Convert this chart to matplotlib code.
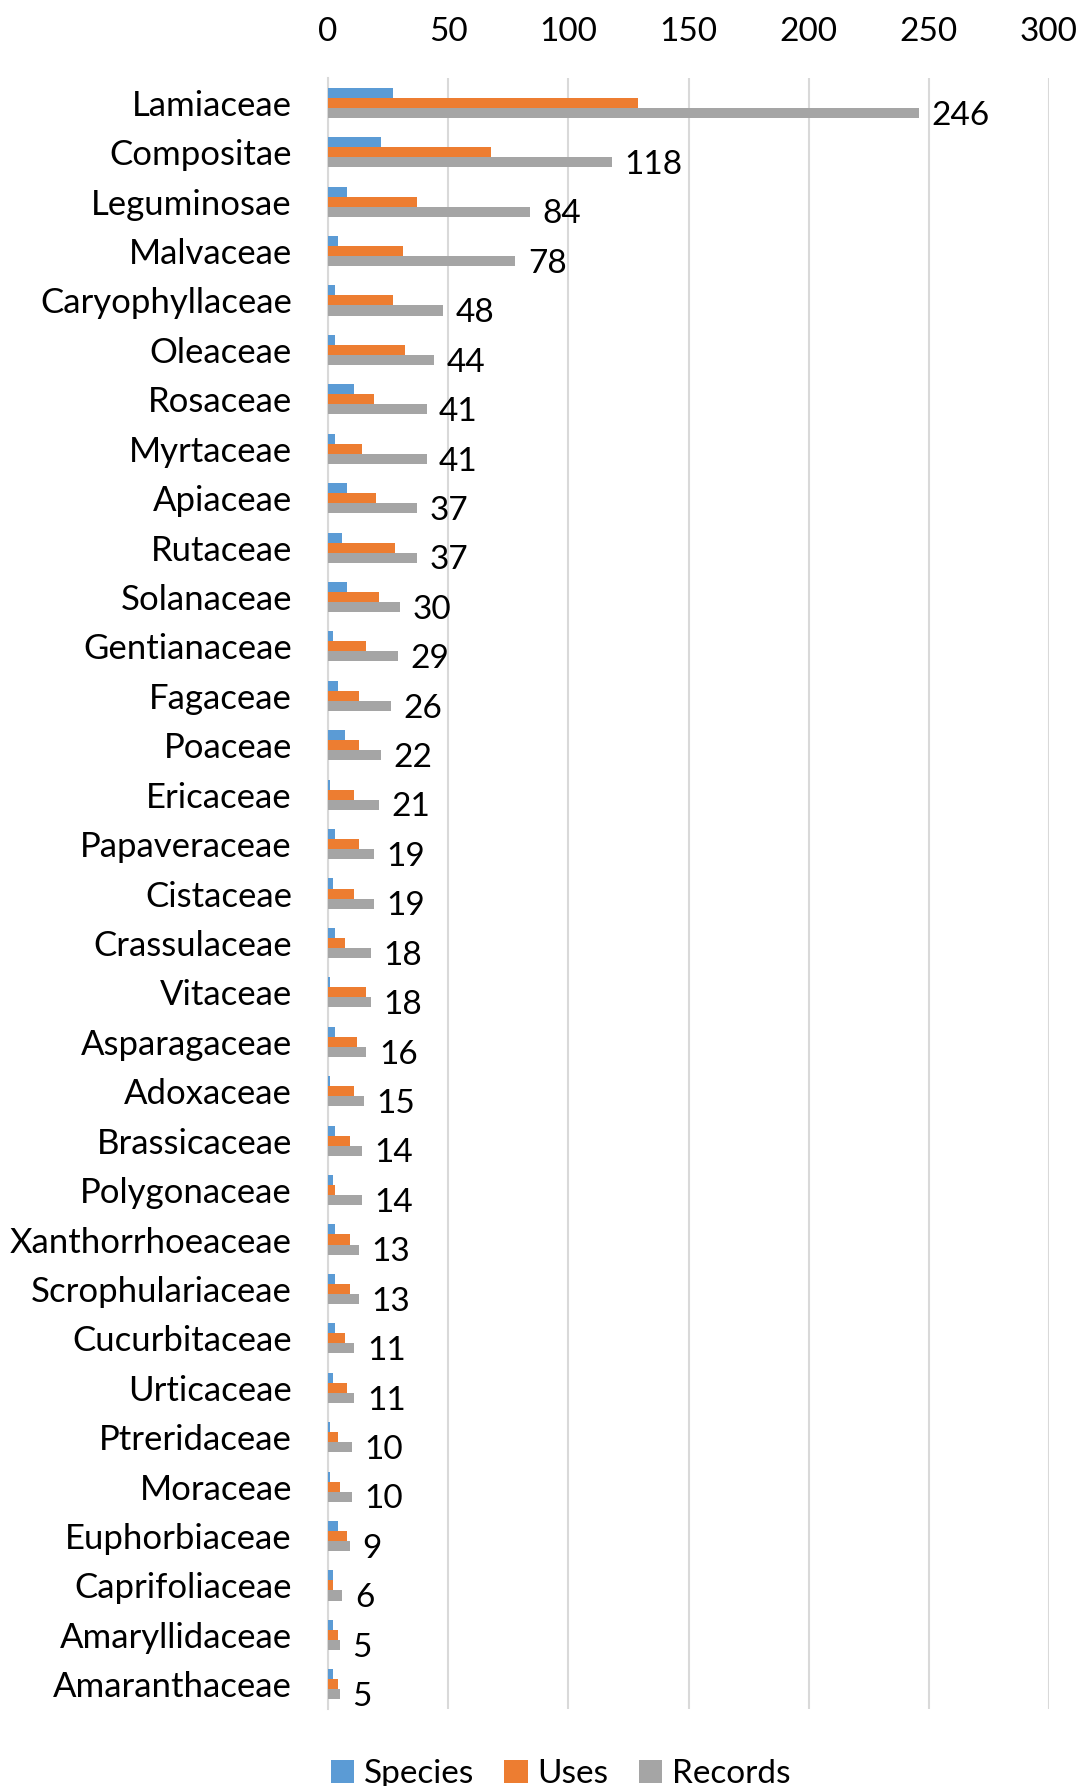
import matplotlib
matplotlib.use("Agg")
from matplotlib import pyplot as plt
import numpy as np

families = ["Lamiaceae", "Compositae", "Leguminosae", "Malvaceae", "Caryophyllaceae",
            "Oleaceae", "Rosaceae", "Myrtaceae", "Apiaceae", "Rutaceae", "Solanaceae",
            "Gentianaceae", "Fagaceae", "Poaceae", "Ericaceae", "Papaveraceae", "Cistaceae",
            "Crassulaceae", "Vitaceae", "Asparagaceae", "Adoxaceae", "Brassicaceae",
            "Polygonaceae", "Xanthorrhoeaceae", "Scrophulariaceae", "Cucurbitaceae",
            "Urticaceae", "Ptreridaceae", "Moraceae", "Euphorbiaceae", "Caprifoliaceae",
            "Amaryllidaceae", "Amaranthaceae"]
species = [27, 22, 8, 4, 3, 3, 11, 3, 8, 6, 8, 2, 4, 7, 1, 3, 2, 3, 1, 3, 1, 3, 2, 3, 3,
           3, 2, 1, 1, 4, 2, 2, 2]
uses = [129, 68, 37, 31, 27, 32, 19, 14, 20, 28, 21, 16, 13, 13, 11, 13, 11, 7, 16, 12,
        11, 9, 3, 9, 9, 7, 8, 4, 5, 8, 2, 4, 4]
records = [246, 118, 84, 78, 48, 44, 41, 41, 37, 37, 30, 29, 26, 22, 21, 19, 19, 18, 18,
           16, 15, 14, 14, 13, 13, 11, 11, 10, 10, 9, 6, 5, 5]
xticks = [0, 50, 100, 150, 200, 250, 300]

plt.rcParams['font.family'] = ['Lato', 'DejaVu Sans']
FS = 24

fig = plt.figure(figsize=(10.78, 17.86), dpi=100)
ax = fig.add_axes([0.3043, 0.0431, 0.6688, 0.9132])

y = np.arange(len(families))
bh = 0.203
ax.barh(y - bh, species, height=bh, color="#5B9BD5", label="Species", zorder=3)
ax.barh(y, uses, height=bh, color="#ED7D31", label="Uses", zorder=3)
bars = ax.barh(y + bh, records, height=bh, color="#A5A5A5", label="Records", zorder=3)

for b, v in zip(bars, records):
    ax.annotate(str(v), (b.get_width(), b.get_y() + b.get_height() / 2),
                xytext=(9, -2), textcoords="offset points",
                va="center", ha="left", fontsize=FS, color="black")

ax.set_xlim(0, 300)
ax.set_ylim(len(families) - 0.5, -0.5)
ax.set_xticks(xticks)
ax.xaxis.tick_top()
ax.set_yticks(y)
ax.set_yticklabels(families, fontsize=25)
ax.tick_params(axis="x", length=0, labelsize=FS, pad=22)
ax.tick_params(axis="y", length=0, pad=26)
ax.grid(axis="x", color="#D9D9D9", linewidth=1.5, zorder=0)
for s in ["top", "right", "bottom"]:
    ax.spines[s].set_visible(False)
ax.spines["left"].set_color("#D9D9D9")
ax.spines["left"].set_linewidth(1.5)

fig.legend(loc="center", bbox_to_anchor=(0.52, 0.0067), ncol=3, frameon=False,
           fontsize=FS, handlelength=0.7, handleheight=0.7, columnspacing=0.9,
           handletextpad=0.3)

fig.savefig("out.png", dpi=100)
